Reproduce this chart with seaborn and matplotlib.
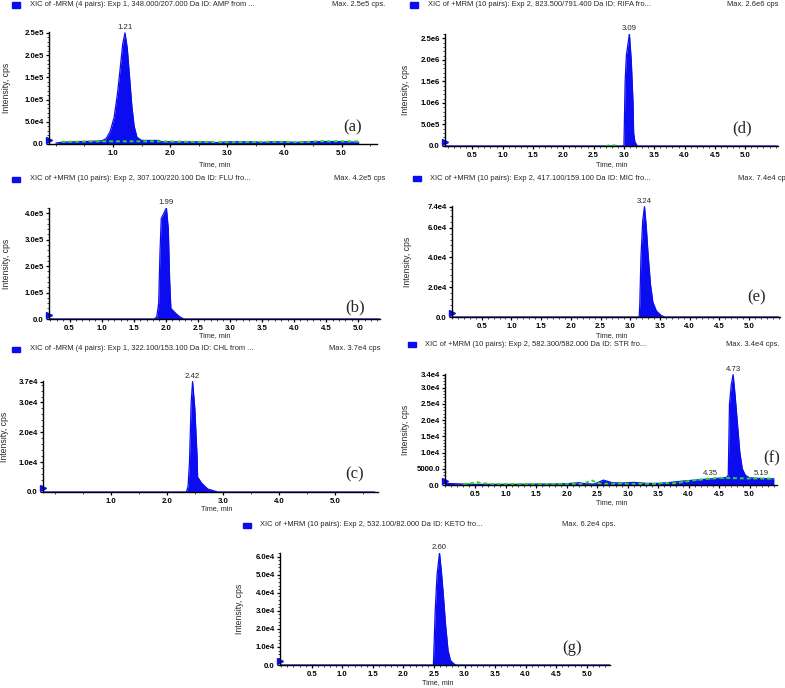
import matplotlib
matplotlib.use("Agg")
import matplotlib.pyplot as plt
import matplotlib.patches as mpatches
from matplotlib.ticker import FixedLocator, MultipleLocator
import seaborn as sns

C_BLUE  = "#0C0CF0"
C_GREEN = "#22DD22"
W, H = 785, 688

# ── data ────────────────────────────────────────────────────
t_amp = [0.00, 0.10, 0.30, 0.60, 0.80, 0.88, 0.95, 1.02, 1.08, 1.13, 1.17, 1.21,
         1.25, 1.29, 1.33, 1.37, 1.42, 1.50, 1.80, 1.85, 2.50, 2.70, 2.80, 3.00,
         3.50, 3.60, 3.70, 4.00, 4.20, 4.30, 4.50, 5.00, 5.30]
i_amp = [2000, 4000, 5000, 6000, 7000, 12000, 28000, 60000, 115000, 175000, 225000, 250000,
         215000, 150000, 85000, 40000, 15000, 8000, 8000, 5000, 5000, 4500, 3000, 5000,
         5000, 3000, 5000, 5000, 3500, 4500, 5500, 5500, 4000]
t_amp_g = [0.10, 0.90, 1.80, 2.10, 2.85, 3.05, 3.80, 4.00, 4.25, 4.35, 4.50, 5.30]
i_amp_g = [5000, 6000, 6000, 5500, 4000, 4000, 5000, 5000, 4000, 4000, 6000, 6000]

t_flu = [0.18, 1.82, 1.86, 1.89, 1.91, 1.93, 1.97, 2.01, 2.04, 2.06, 2.08, 2.12,
         2.17, 2.22, 2.28, 5.34]
i_flu = [0, 0, 8000, 60000, 250000, 380000, 400000, 420000, 340000, 150000, 40000, 30000,
         18000, 8000, 0, 0]

t_chl = [-0.20, 2.34, 2.37, 2.395, 2.425, 2.45, 2.49, 2.53, 2.54, 2.61, 2.72, 2.90, 5.70]
i_chl = [0, 0, 2000, 10000, 30000, 37000, 28000, 12000, 5000, 3000, 1000, 0, 0]

t_rifa = [0.05, 3.00, 3.02, 3.04, 3.07, 3.09, 3.12, 3.15, 3.16, 3.18, 3.22, 5.54]
i_rifa = [0, 0, 1.5e6, 2.1e6, 2.4e6, 2.6e6, 2.0e6, 1.0e6, 3e5, 1e5, 0, 0]
t_rifa_g = [2.70, 2.75, 2.80, 2.85, 2.90]
i_rifa_g = [0, 12000, 20000, 12000, 0]

t_mic = [0.00, 3.15, 3.16, 3.18, 3.21, 3.24, 3.27, 3.30, 3.34, 3.38, 3.44, 3.52, 3.58, 5.50]
i_mic = [0, 0, 8000, 40000, 65000, 74000, 60000, 42000, 22000, 10000, 4000, 1000, 0, 0]

t_str = [0.00, 0.30, 0.50, 0.80, 1.20, 1.50, 1.80, 2.00, 2.20, 2.30, 2.45, 2.60, 2.75,
         2.90, 3.10, 3.30, 3.50, 3.70, 3.90, 4.10, 4.30, 4.50, 4.62, 4.65, 4.67, 4.70,
         4.73, 4.76, 4.80, 4.84, 4.88, 4.93, 5.00, 5.20, 5.40]
i_str = [500, 300, 200, 200, 200, 300, 300, 400, 700, 400, 300, 1500, 700,
         600, 800, 500, 500, 800, 1200, 1500, 1800, 2100, 2300, 3000, 25000, 31000,
         34000, 28000, 19000, 10000, 5000, 3000, 2200, 2000, 1900]
t_str_g = [0.30, 0.45, 0.52, 0.60, 0.75, 2.25, 2.33, 2.40, 2.48, 2.55, 3.50, 3.58, 3.65,
           3.72, 4.10, 4.35, 4.55, 5.00, 5.19, 5.40]
i_str_g = [300, 600, 900, 600, 300, 300, 800, 1500, 800, 400, 300, 700, 600,
           400, 1500, 2000, 2200, 2000, 2000, 2000]

t_keto = [0.00, 2.49, 2.50, 2.52, 2.55, 2.59, 2.62, 2.65, 2.69, 2.73, 2.77, 2.83, 2.87, 5.38]
i_keto = [0, 0, 10000, 30000, 50000, 62000, 52000, 40000, 22000, 8000, 2500, 500, 0, 0]

headers = {
    "a": ("XIC of -MRM (4 pairs): Exp 1, 348.000/207.000 Da ID: AMP from ...", "Max. 2.5e5 cps."),
    "b": ("XIC of +MRM (10 pairs): Exp 2, 307.100/220.100 Da ID: FLU fro...", "Max. 4.2e5 cps"),
    "c": ("XIC of -MRM (4 pairs): Exp 1, 322.100/153.100 Da ID: CHL from ...", "Max. 3.7e4 cps"),
    "d": ("XIC of +MRM (10 pairs): Exp 2, 823.500/791.400 Da ID: RIFA fro...", "Max. 2.6e6 cps"),
    "e": ("XIC of +MRM (10 pairs): Exp 2, 417.100/159.100 Da ID: MIC fro...", "Max. 7.4e4 cps"),
    "f": ("XIC of +MRM (10 pairs): Exp 2, 582.300/582.000 Da ID: STR fro...", "Max. 3.4e4 cps."),
    "g": ("XIC of +MRM (10 pairs): Exp 2, 532.100/82.000 Da ID: KETO fro...", "Max. 6.2e4 cps."),
}

yticks = {
    "a": [0, 5e4, 1e5, 1.5e5, 2e5, 2.5e5],
    "b": [0, 1e5, 2e5, 3e5, 4e5],
    "c": [0, 1e4, 2e4, 3e4, 3.7e4],
    "d": [0, 5e5, 1e6, 1.5e6, 2e6, 2.5e6],
    "e": [0, 2e4, 4e4, 6e4, 7.4e4],
    "f": [0, 5e3, 1e4, 1.5e4, 2e4, 2.5e4, 3e4, 3.4e4],
    "g": [0, 1e4, 2e4, 3e4, 4e4, 5e4, 6e4],
}
ylabels = {
    "a": ["0.0", "5.0e4", "1.0e5", "1.5e5", "2.0e5", "2.5e5"],
    "b": ["0.0", "1.0e5", "2.0e5", "3.0e5", "4.0e5"],
    "c": ["0.0", "1.0e4", "2.0e4", "3.0e4", "3.7e4"],
    "d": ["0.0", "5.0e5", "1.0e6", "1.5e6", "2.0e6", "2.5e6"],
    "e": ["0.0", "2.0e4", "4.0e4", "6.0e4", "7.4e4"],
    "f": ["0.0", "5000.0", "1.0e4", "1.5e4", "2.0e4", "2.5e4", "3.0e4", "3.4e4"],
    "g": ["0.0", "1.0e4", "2.0e4", "3.0e4", "4.0e4", "5.0e4", "6.0e4"],
}
peak_labels = {
    "a": [(1.21, 250000, "1.21")],
    "b": [(2.01, 420000, "1.99")],
    "c": [(2.45, 37000, "2.42")],
    "d": [(3.09, 2.6e6, "3.09")],
    "e": [(3.24, 74000, "3.24")],
    "f": [(4.73, 34000, "4.73"), (4.35, 2000, "4.35"), (5.19, 2000, "5.19")],
    "g": [(2.59, 62000, "2.60")],
}

# ── layout (pixels): axes box, limits, text positions ────────
panels = {
    #     l    r    top  bot   xlim            ymax   int   hdr_y time_x time_y let_x let_y ylab_x
    "a": (49, 377, 32, 144, (-0.12, 5.62), 2.52e5, True, 5,   215, 165, 353, 127, 7),
    "b": (49, 380, 208, 319, (0.18, 5.34), 4.2e5, False, 179, 215, 336, 355, 307, 7),
    "c": (43, 378, 381, 492, (-0.22, 5.76), 3.72e4, True, 349, 217, 509, 355, 474, 5),
    "d": (445, 778, 34, 146, (0.05, 5.54), 2.6e6, False, 5,   612, 165, 742, 128, 405),
    "e": (452, 780, 206, 317, (0.00, 5.52), 7.45e4, False, 178, 612, 336, 757, 297, 407),
    "f": (445, 777, 374, 485, (0.00, 5.45), 3.42e4, False, 345, 612, 503, 772, 458, 405),
    "g": (280, 610, 553, 665, (-0.02, 5.38), 6.2e4, False, 525, 438, 683, 572, 648, 240),
}
header_x = {"a": (12, 30, 385), "b": (12, 30, 385), "c": (12, 30, 380),
            "d": (410, 428, 778), "e": (413, 430, 790), "f": (408, 425, 780),
            "g": (243, 260, 615)}

traces = {
    "a": [(t_amp, i_amp, True), (t_amp_g, i_amp_g, False)],
    "b": [(t_flu, i_flu, True)],
    "c": [(t_chl, i_chl, True)],
    "d": [(t_rifa, i_rifa, True), (t_rifa_g, i_rifa_g, False)],
    "e": [(t_mic, i_mic, True)],
    "f": [(t_str, i_str, True), (t_str_g, i_str_g, False)],
    "g": [(t_keto, i_keto, True)],
}

sns.set_theme(style="ticks")
plt.rcParams.update({
    "font.family": ["Liberation Sans", "DejaVu Sans"],
    "axes.linewidth": 1.0,
    "axes.edgecolor": "black",
    "xtick.major.size": 2.5,
    "ytick.major.size": 2.5,
    "xtick.minor.size": 1.3,
    "ytick.minor.size": 1.3,
    "xtick.major.pad": 1.5,
    "ytick.major.pad": 1.2,
})

fig = plt.figure(figsize=(W / 100, H / 100), dpi=100, facecolor="white")

for key, (l, r, top, bot, xlim, ymax, int_ticks, hy, tx, ty, lx, ly, yx) in panels.items():
    ax = fig.add_axes([l / W, 1 - bot / H, (r - l) / W, (bot - top) / H])
    ax.set_facecolor("white")
    for t, y, main in traces[key]:
        if main:
            ax.fill_between(t, y, 0, color=C_BLUE, lw=0)
            sns.lineplot(x=t, y=y, ax=ax, color=C_BLUE, lw=0.9, sort=False)
        else:
            sns.lineplot(x=t, y=y, ax=ax, color=C_GREEN, lw=1.4, sort=False,
                         dashes=False, linestyle=(0, (2, 1.5)))
    ax.set_xlim(*xlim)
    ax.set_ylim(0, ymax)
    sns.despine(ax=ax)
    if int_ticks:
        ax.xaxis.set_major_locator(FixedLocator([1, 2, 3, 4, 5]))
        ax.set_xticklabels(["1.0", "2.0", "3.0", "4.0", "5.0"])
        ax.xaxis.set_minor_locator(MultipleLocator(0.5))
    else:
        xt = [0.5, 1.0, 1.5, 2.0, 2.5, 3.0, 3.5, 4.0, 4.5, 5.0]
        ax.xaxis.set_major_locator(FixedLocator(xt))
        ax.set_xticklabels([f"{v:.1f}" for v in xt])
        ax.xaxis.set_minor_locator(MultipleLocator(0.1))
    ax.yaxis.set_major_locator(FixedLocator(yticks[key]))
    ax.set_yticklabels(ylabels[key])
    ax.yaxis.set_minor_locator(MultipleLocator(yticks[key][1] / 5))
    ax.tick_params(labelsize=5.6, width=0.9, colors="black")
    ax.tick_params(which="minor", width=0.6)
    for lab in ax.get_xticklabels() + ax.get_yticklabels():
        lab.set_fontweight("bold")
    ax.set_xlabel("")
    ax.set_ylabel("")
    for px, py, txt in peak_labels[key]:
        ax.annotate(txt, (px, py), xytext=(0, 1.2), textcoords="offset points",
                    ha="center", va="bottom", fontsize=5.6, annotation_clip=False)
    # the little start-of-trace arrow on the y axis
    ax.plot([xlim[0]], [ymax * 0.035], marker=">", ms=4, color=C_BLUE, clip_on=False)

    fig.text(yx / W, 1 - (top + bot) / 2 / H, "Intensity, cps", fontsize=6.2,
             rotation=90, va="center", ha="center")
    sx, tx0, mx = header_x[key]
    fig.patches.append(mpatches.Rectangle((sx / W, 1 - (hy + 2.5) / H), 8 / W, 5 / H,
                                          transform=fig.transFigure, color=C_BLUE))
    fig.text(tx0 / W, 1 - hy / H, headers[key][0], fontsize=5.4, va="center", ha="left")
    fig.text(mx / W, 1 - hy / H, headers[key][1], fontsize=5.4, va="center", ha="right")
    fig.text(tx / W, 1 - ty / H, "Time, min", fontsize=5.2, va="center", ha="center")
    fig.text(lx / W, 1 - ly / H, f"({key})", fontsize=12, va="center", ha="center",
             family=["Liberation Serif", "DejaVu Serif"])

fig.savefig("out.png", dpi=100, facecolor="white")
